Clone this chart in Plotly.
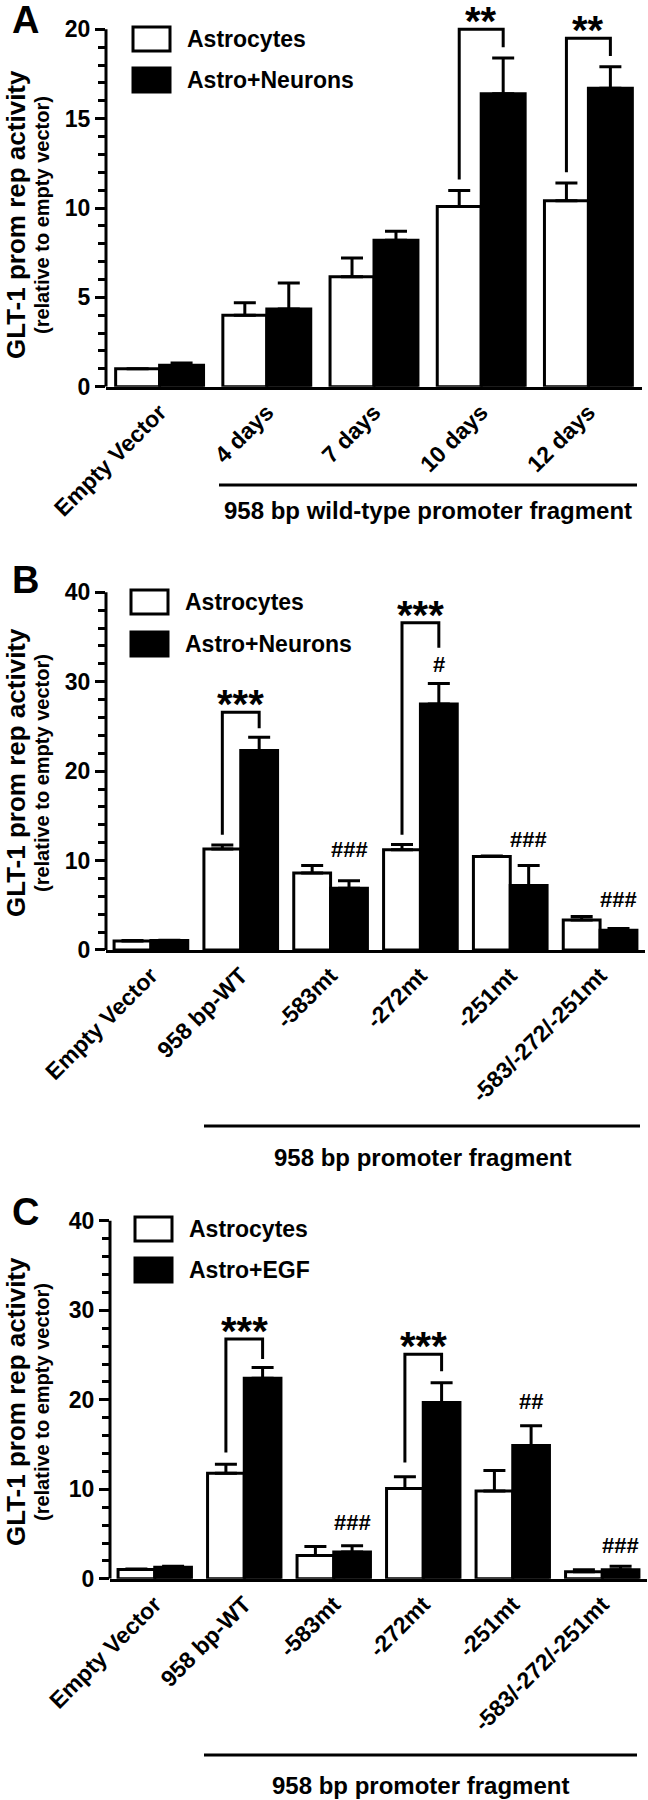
import plotly.graph_objects as go

# ---- data ----
# Panel A: time course, 958 bp wild-type promoter
a_groups = ["Empty Vector", "4 days", "7 days", "10 days", "12 days"]
a_astro = [1.0, 4.0, 6.15, 10.08, 10.4]
a_astro_err = [0.0, 0.7, 1.05, 0.9, 1.0]
a_neur = [1.2, 4.35, 8.2, 16.4, 16.7]
a_neur_err = [0.12, 1.45, 0.5, 2.0, 1.2]
# significance brackets: (group, top, left leg end, right leg end, label)
a_brackets = [(3, 20.0, 11.6, 19.0, "**"), (4, 19.5, 12.0, 18.5, "**")]
a_hash = []

# Panel B: promoter mutants, astrocytes vs astro+neurons
b_groups = ["Empty Vector", "958 bp-WT", "-583mt", "-272mt", "-251mt", "-583/-272/-251mt"]
b_astro = [1.0, 11.3, 8.6, 11.2, 10.45, 3.35]
b_astro_err = [0.05, 0.45, 0.85, 0.6, 0.05, 0.4]
b_neur = [1.05, 22.3, 6.9, 27.5, 7.2, 2.2]
b_neur_err = [0.05, 1.5, 0.85, 2.3, 2.25, 0.2]
b_brackets = [(1, 26.6, 12.9, 24.8, "***"), (3, 36.6, 12.9, 33.8, "***")]
b_hash = [(2, 11.2, "###"), (3, 31.9, "#"), (4, 12.4, "###"), (5, 5.6, "###")]

# Panel C: promoter mutants, astrocytes vs astro+EGF
c_groups = ["Empty Vector", "958 bp-WT", "-583mt", "-272mt", "-251mt", "-583/-272/-251mt"]
c_astro = [1.05, 11.8, 2.6, 10.1, 9.8, 0.8]
c_astro_err = [0.05, 1.0, 1.0, 1.3, 2.3, 0.2]
c_egf = [1.3, 22.4, 3.0, 19.7, 14.9, 1.0]
c_egf_err = [0.1, 1.2, 0.7, 2.2, 2.2, 0.4]
c_brackets = [(1, 26.8, 14.1, 24.55, "***"), (3, 25.1, 13.0, 23.2, "***")]
c_hash = [(2, 6.3, "###"), (4, 19.8, "##"), (5, 3.7, "###")]

W, H = 648, 1800
FONT = "Liberation Sans, Arial, sans-serif"
BARGAP = 0.18
HALF = (1 - BARGAP) / 4  # offset of each bar centre from the group centre


def px(x):
    return x / W


def py(y):
    return 1 - y / H


fig = go.Figure()
shapes = []
annots = []


def panel(i, letter, groups, s1, e1, s2, e2, names, brackets, hashes,
          xpx, ypx, ytop, ymax, major, minor, letter_y, legend_y, legend_x,
          title_y, frag_text, frag_line, frag_y):
    xa = "x" if i == 1 else f"x{i}"
    ya = "y" if i == 1 else f"y{i}"
    n = len(groups)
    xs = list(range(n))
    for vals, errs, col in [(s1, e1, "white"), (s2, e2, "black")]:
        fig.add_trace(go.Bar(
            x=xs, y=vals, xaxis=xa, yaxis=ya,
            marker=dict(color=col, line=dict(color="black", width=3)),
            error_y=dict(type="data", array=errs, arrayminus=[0] * n,
                         symmetric=False, color="black", thickness=3, width=11),
            showlegend=False, hoverinfo="skip"))

    # domains: the y value ymax sits at ypx[0], zero at ypx[1]
    unit = (ypx[1] - ypx[0]) / ymax
    top_px = ypx[1] - ytop * unit
    fig.layout[("xaxis" if i == 1 else f"xaxis{i}")] = dict(
        domain=[px(xpx[0]), px(xpx[1])], anchor=ya, range=[-0.5, n - 0.5],
        tickvals=xs, ticktext=groups, tickangle=-45, ticks="", automargin=False,
        showline=True, linewidth=3, linecolor="black", showgrid=False,
        zeroline=False, tickfont=dict(family=FONT, size=23, color="black", weight="bold"))
    fig.layout[("yaxis" if i == 1 else f"yaxis{i}")] = dict(
        domain=[py(ypx[1]), py(top_px)], anchor=xa, range=[0, ytop], automargin=False,
        tickvals=list(range(0, ymax + 1, major)), ticks="outside", ticklen=10,
        tickwidth=3, tickcolor="black", showline=False, showgrid=False, zeroline=False,
        minor=dict(tickvals=list(range(0, ymax + 1, minor)), ticks="outside",
                   ticklen=7, tickwidth=3, tickcolor="black"),
        tickfont=dict(family=FONT, size=23, color="black", weight="bold"))

    # y axis line only up to the last labelled tick
    shapes.append(dict(type="line", xref="paper", yref=ya, x0=px(xpx[0]), x1=px(xpx[0]),
                       y0=0, y1=ymax, line=dict(color="black", width=3)))

    # significance brackets
    for g, top, lo_l, lo_r, lab in brackets:
        xl, xr = g - HALF, g + HALF
        shapes.append(dict(type="path", xref=xa, yref=ya,
                           path=f"M {xl},{lo_l} L {xl},{top} L {xr},{top} L {xr},{lo_r}",
                           line=dict(color="black", width=3)))
        annots.append(dict(x=g, y=top, xref=xa, yref=ya, text=lab, showarrow=False,
                           yanchor="middle", yshift=8,
                           font=dict(family=FONT, size=40, color="black", weight="bold")))
    for g, yv, lab in hashes:
        annots.append(dict(x=g + HALF, y=yv, xref=xa, yref=ya, text=lab, showarrow=False,
                           yanchor="middle",
                           font=dict(family=FONT, size=22, color="black", weight="bold")))

    # panel letter
    annots.append(dict(x=px(25), y=py(letter_y), xref="paper", yref="paper", text=letter,
                       showarrow=False, xanchor="center", yanchor="middle",
                       font=dict(family=FONT, size=38, color="black", weight="bold")))

    # legend boxes
    for k, (fill, name) in enumerate(zip(["white", "black"], names)):
        y0 = legend_y[k]
        shapes.append(dict(type="rect", xref="paper", yref="paper",
                           x0=px(legend_x), x1=px(legend_x + 37), y0=py(y0 + 12), y1=py(y0 - 12),
                           fillcolor=fill, line=dict(color="black", width=3)))
        annots.append(dict(x=px(legend_x + 52), y=py(y0), xref="paper", yref="paper",
                           text=name, showarrow=False, xanchor="left", yanchor="middle",
                           font=dict(family=FONT, size=23, color="black", weight="bold")))

    # y axis title (two lines)
    annots.append(dict(x=px(16), y=py(title_y), xref="paper", yref="paper",
                       text="GLT-1 prom rep activity", textangle=-90, showarrow=False,
                       xanchor="center", yanchor="middle",
                       font=dict(family=FONT, size=26, color="black", weight="bold")))
    annots.append(dict(x=px(42), y=py(title_y), xref="paper", yref="paper",
                       text="(relative to empty vector)", textangle=-90, showarrow=False,
                       xanchor="center", yanchor="middle",
                       font=dict(family=FONT, size=20, color="black", weight="bold")))

    # promoter fragment bracket under the axis
    shapes.append(dict(type="line", xref="paper", yref="paper",
                       x0=px(frag_line[0]), x1=px(frag_line[1]), y0=py(frag_line[2]), y1=py(frag_line[2]),
                       line=dict(color="black", width=3)))
    annots.append(dict(x=px((frag_line[0] + frag_line[1]) / 2), y=py(frag_y), xref="paper", yref="paper",
                       text=frag_text, showarrow=False, xanchor="center", yanchor="middle",
                       font=dict(family=FONT, size=24, color="black", weight="bold")))


panel(1, "A", a_groups, a_astro, a_astro_err, a_neur, a_neur_err,
      ["Astrocytes", "Astro+Neurons"], a_brackets, a_hash,
      xpx=(106, 642), ypx=(29.3, 386.7), ytop=21, ymax=20, major=5, minor=1,
      letter_y=20, legend_y=(39, 80), legend_x=133, title_y=215,
      frag_text="958 bp wild-type promoter fragment", frag_line=(219, 637, 485), frag_y=510)

panel(2, "B", b_groups, b_astro, b_astro_err, b_neur, b_neur_err,
      ["Astrocytes", "Astro+Neurons"], b_brackets, b_hash,
      xpx=(106, 645), ypx=(592.3, 950), ytop=41, ymax=40, major=10, minor=2,
      letter_y=580, legend_y=(602, 644), legend_x=131, title_y=773,
      frag_text="958 bp promoter fragment", frag_line=(204, 640, 1126), frag_y=1157)

panel(3, "C", c_groups, c_astro, c_astro_err, c_egf, c_egf_err,
      ["Astrocytes", "Astro+EGF"], c_brackets, c_hash,
      xpx=(110, 647), ypx=(1220.8, 1578.8), ytop=41, ymax=40, major=10, minor=2,
      letter_y=1212, legend_y=(1229, 1270), legend_x=135, title_y=1402,
      frag_text="958 bp promoter fragment", frag_line=(204, 637, 1755), frag_y=1785)

fig.update_layout(
    width=W, height=H, margin=dict(l=0, r=0, t=0, b=0, autoexpand=False),
    paper_bgcolor="white", plot_bgcolor="white",
    barmode="group", bargap=BARGAP, bargroupgap=0,
    shapes=shapes, annotations=annots,
    font=dict(family=FONT, color="black"),
)

# page without body margin / scrollbars so the 648x1800 figure fills the window
fig.write_html("out.html", config={"displayModeBar": False},
               post_script="document.body.style.margin='0';document.body.style.overflow='hidden';")
